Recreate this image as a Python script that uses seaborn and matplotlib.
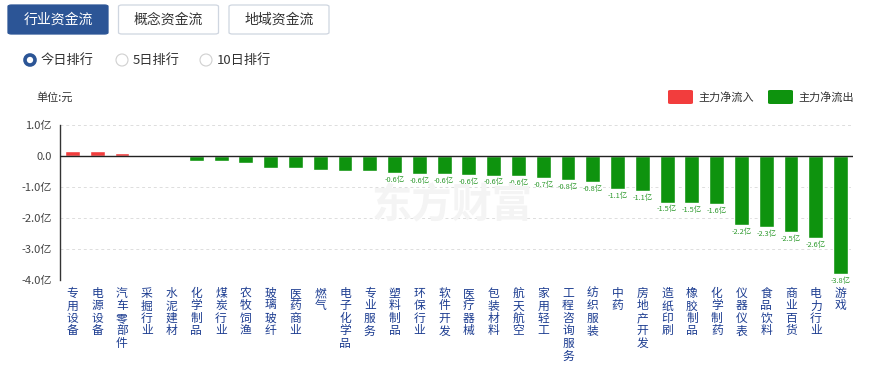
import matplotlib
matplotlib.use('Agg')
import matplotlib.pyplot as plt
import seaborn as sns
import pandas as pd
from matplotlib.patches import FancyBboxPatch, Ellipse

# dados (unidade: 亿元)
hangye = ['专用设备', '电源设备', '汽车零部件', '采掘行业', '水泥建材', '化学制品',
          '煤炭行业', '农牧饲渔', '玻璃玻纤', '医药商业', '燃气', '电子化学品',
          '专业服务', '塑料制品', '环保行业', '软件开发', '医疗器械', '包装材料',
          '航天航空', '家用轻工', '工程咨询服务', '纺织服装', '中药', '房地产开发',
          '造纸印刷', '橡胶制品', '化学制药', '仪器仪表', '食品饮料', '商业百货',
          '电力行业', '游戏']
jingliu = [0.16, 0.15, 0.09, 0.02, 0.0, -0.15, -0.16, -0.24, -0.38, -0.38,
           -0.45, -0.47, -0.49, -0.56, -0.58, -0.59, -0.61, -0.63, -0.64, -0.72,
           -0.78, -0.83, -1.07, -1.13, -1.50, -1.53, -1.55, -2.23, -2.30, -2.46,
           -2.64, -3.81]
y_ticks = [1.0, 0.0, -1.0, -2.0, -3.0, -4.0]
y_labels = ['1.0亿', '0.0', '-1.0亿', '-2.0亿', '-3.0亿', '-4.0亿']

VERMELHO = '#f23d3d'
VERDE = '#0e930e'
AZUL = '#2c5596'

sns.set_style('white')
plt.rcParams['font.family'] = ['Noto Sans CJK SC', 'DejaVu Sans']

fig = plt.figure(figsize=(8.78, 3.65), dpi=100)
W, H = 878, 365


def fx(px):
    return px / W


def fy(py):
    return 1 - py / H


# botoes do topo
botoes = ['行业资金流', '概念资金流', '地域资金流']
for i, nome in enumerate(botoes):
    x0 = 8 + i * 110.5
    ativo = i == 0
    fig.patches.append(FancyBboxPatch((fx(x0), fy(34)), fx(100), 29 / H,
                                      boxstyle='round,pad=0,rounding_size=0.004',
                                      transform=fig.transFigure,
                                      facecolor=AZUL if ativo else 'white',
                                      edgecolor=AZUL if ativo else '#cfd6e0', lw=0.9))
    fig.text(fx(x0 + 50), fy(20), nome, ha='center', va='center', fontsize=10,
             color='white' if ativo else '#333333')

# opcoes de ranking
radios = [('今日排行', 30, True), ('5日排行', 122, False), ('10日排行', 206, False)]
for texto, cx, marcado in radios:
    d = 10 if marcado else 12
    fig.patches.append(Ellipse((fx(cx), fy(60)), fx(d), d / H, transform=fig.transFigure,
                               facecolor='white', edgecolor=AZUL if marcado else '#d0d0d0',
                               lw=2.6 if marcado else 0.8))
    fig.text(fx(cx + 11), fy(60), texto, ha='left', va='center', fontsize=9.5, color='#333333')

fig.text(fx(36), fy(97), '单位:元', ha='left', va='center', fontsize=8, color='#333333')

# legenda
for cor, texto, x0 in [(VERMELHO, '主力净流入', 668), (VERDE, '主力净流出', 768)]:
    fig.patches.append(FancyBboxPatch((fx(x0), fy(104)), fx(25), 14 / H,
                                      boxstyle='round,pad=0,rounding_size=0.003',
                                      transform=fig.transFigure, facecolor=cor, edgecolor='none'))
    fig.text(fx(x0 + 30), fy(97), texto, ha='left', va='center', fontsize=8, color='#333333')

# marca d'agua
fig.text(fx(452), fy(206), '东方财富', ha='center', va='center', fontsize=29,
         fontweight='bold', color='#f4f4f4', zorder=0)

ax = fig.add_axes([fx(60), fy(280), fx(793), 155 / H])
ax.set_facecolor('none')

df = pd.DataFrame({'hangye': hangye, 'jingliu': jingliu})
cores = [VERMELHO if v > 0 else VERDE for v in jingliu]
sns.barplot(data=df, x='hangye', y='jingliu', hue='hangye', palette=cores,
            legend=False, width=0.6, saturation=1, ax=ax, zorder=3)

ax.set_ylim(-4.0, 1.0)
ax.set_xlim(-0.5, len(hangye) - 0.5)
ax.set_yticks(y_ticks)
ax.set_yticklabels(y_labels, fontsize=8, color='#444444')
for t in [1.0, -1.0, -2.0, -3.0, -4.0]:
    ax.axhline(t, color='#dddddd', lw=0.7, ls=(0, (3, 3)), zorder=1)
ax.axhline(0, color='#222222', lw=1, zorder=4)

ax.set_xticks(range(len(hangye)))
ax.set_xticklabels(['\n'.join(n) for n in hangye], fontsize=8.5, color='#1d3d91',
                   linespacing=0.95, va='top')
ax.tick_params(axis='x', length=0, pad=5)
ax.tick_params(axis='y', length=0, pad=6)
ax.set_xlabel('')
ax.set_ylabel('')

for lado in ['top', 'right', 'bottom']:
    ax.spines[lado].set_visible(False)
ax.spines['left'].set_color('#333333')
ax.spines['left'].set_linewidth(1)

# rotulos de valor
for i, v in enumerate(jingliu):
    if v <= -0.55:
        ax.annotate(f'{v:.1f}亿', (i, v), xytext=(0, -2), textcoords='offset points',
                    ha='center', va='top', fontsize=5.3, color='#2e9a2e', zorder=5)

fig.savefig('out.png', dpi=100)
